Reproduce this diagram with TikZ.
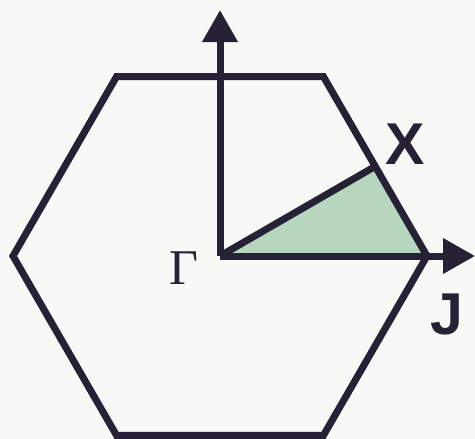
\documentclass[tikz,border=0pt]{standalone}
\usepackage{fontspec}
\newfontfamily\labelfont{Liberation Sans}
\newfontfamily\gammafont{Liberation Serif}
\usetikzlibrary{arrows.meta,calc}
\definecolor{ink}{RGB}{38,33,52}
\definecolor{wedge}{RGB}{182,214,190}
\definecolor{paper}{RGB}{248,248,246}
\begin{document}
\begin{tikzpicture}[x=1pt,y=-1pt,
  edge/.style={draw=ink,line width=7pt,line join=miter},
  axis/.style={draw=ink,line width=7pt,-{Triangle[width=34pt,length=32pt]}},
  sanslabel/.style={text=ink,font=\labelfont\bfseries\fontsize{59}{59}\selectfont,inner sep=0pt},
  seriflabel/.style={text=ink,font=\gammafont\fontsize{50}{50}\selectfont,inner sep=0pt}]
\fill[paper] (0,0) rectangle (475,439);
\useasboundingbox (0,0) rectangle (475,439);
\coordinate (G) at (220,256);
\coordinate (V0) at (427,256);
\coordinate (V1) at (323.5,76.7);
\coordinate (V2) at (116.5,76.7);
\coordinate (V3) at (13,256);
\coordinate (V4) at (116.5,435.3);
\coordinate (V5) at (323.5,435.3);
\coordinate (Xp) at ($(V0)!0.5!(V1)$);
\coordinate (Ytip) at (220,10);
\coordinate (Jtip) at (475,256);
\fill[wedge] (G) -- (Xp) -- (V0) -- cycle;
\draw[edge] (V0) -- (V1) -- (V2) -- (V3) -- (V4) -- (V5) -- cycle;
\draw[edge] (G) -- (Xp);
\draw[axis] (G) -- (Ytip);
\draw[axis] (G) -- (Jtip);
\node[sanslabel] (X) at (405,144) {X};
\node[sanslabel] (J) at (447,314) {J};
\node[seriflabel] (Gamma) at (184,268) {Γ};
\end{tikzpicture}
\end{document}
